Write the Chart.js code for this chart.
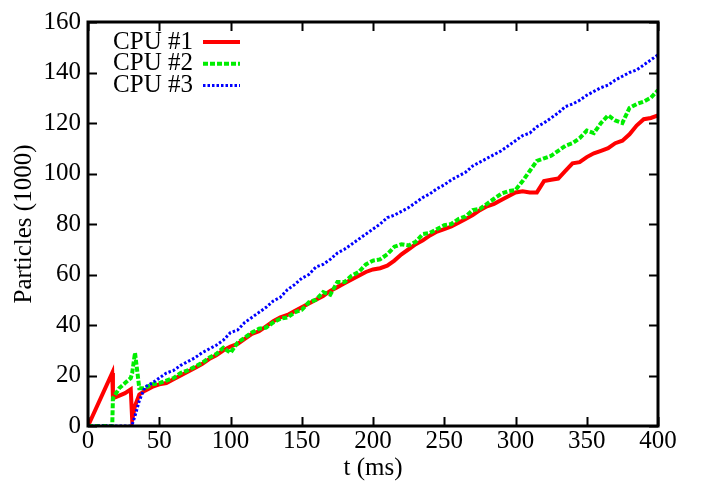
<!DOCTYPE html>
<html>
<head>
<meta charset="utf-8">
<script src="https://cdn.jsdelivr.net/npm/chart.js@4"></script>
<style>
  body { margin: 0; background: #fff; }
</style>
</head>
<body>
<canvas id="myChart" width="704" height="483"></canvas>
<script>
// time in ms
var times = [0, 17, 17.5, 22, 26, 30, 31, 33, 36,
  40, 45, 50, 55, 60, 65, 70, 75, 80, 85, 90, 95, 100, 105, 110, 115, 120, 125, 130, 135, 140, 145,
  150, 155, 160, 165, 170, 175, 180, 185, 190, 195, 200, 205, 210, 215, 220, 225, 230, 235, 240, 245,
  250, 255, 260, 265, 270, 275, 280, 285, 290, 295, 300, 305, 310, 315, 320, 325, 330, 335, 340, 345,
  350, 355, 360, 365, 370, 375, 380, 385, 390, 395, 400];

// particles (1000) per CPU
var cpu1 = [0, 21, 11, 12, 13, 14.5, 2.5, 8, 12.5,
  14, 15.5, 16.5, 17, 18.5, 20, 21.5, 23, 24.5, 26.5, 28, 30, 31.5, 32.5, 34.5, 36.5, 37.5, 39.5, 41.5, 43, 44, 45.5,
  47, 48.5, 50, 51.5, 53.5, 55, 56.5, 58, 59.5, 61, 62, 62.5, 63.5, 65.5, 68, 70, 72, 73.5, 75.5, 77,
  78, 79, 80.5, 82, 83.5, 85.5, 87, 88, 89.5, 91, 92.5, 93, 92.5, 92.5, 97, 97.5, 98, 101, 104, 104.5,
  106.5, 108, 109, 110, 112, 113, 115.5, 119, 121.5, 122, 123];

var cpu2 = [0, 0, 11, 15, 17, 19, 21, 29, 15,
  15, 16.5, 17, 18, 19, 21, 22, 23.5, 25, 27, 28.5, 31, 29, 33, 35, 37, 38.5, 39, 41, 42.5, 43, 45,
  46, 49, 50, 53, 52, 57, 57, 59.5, 61, 64, 65.5, 66, 68, 71, 72, 71.5, 73, 76, 76.5, 78,
  79.5, 80, 82, 83, 85.5, 86, 88, 90, 92, 93, 93.5, 97, 101, 105, 106, 107, 109, 111, 112, 114,
  117, 116, 120, 123, 121, 120, 126, 127.5, 128.5, 130, 133];

var cpu3 = [0, 0, 0, 0, 0, 0, 0.5, 4, 10,
  15.5, 17, 19, 21, 22, 24, 25.5, 27, 29, 30.5, 32, 34, 37, 38, 41, 43, 45, 47, 49.5, 51, 54, 56,
  58.5, 60, 63, 64, 66, 68.5, 70, 72, 74, 76, 78, 80, 82.5, 83.5, 85, 86.5, 88.5, 90.5, 92, 94,
  95.5, 97.5, 99, 100.5, 103, 104.5, 106, 107.5, 109, 111, 113, 115, 116, 118.5, 120, 122, 124, 126.5, 127.5, 129,
  131, 132.5, 134, 135, 137, 138.5, 140, 141, 143, 145, 147];

var seriesNames = ['CPU #1', 'CPU #2', 'CPU #3'];

function points(vals) {
    return vals.map(function(v, i) { return { x: times[i], y: v }; });
}

var FONT = "'Liberation Serif', 'Times New Roman', serif";
var FSIZE = 25;

// gnuplot style frame, inward ticks and key
var framePlugin = {
    id: 'frame',
    afterDatasetsDraw: function(chart) {
        var ctx = chart.ctx;
        var a = chart.chartArea;
        var sx = chart.scales.x, sy = chart.scales.y;
        ctx.save();
        ctx.strokeStyle = '#000';
        ctx.lineWidth = 2;
        var tl = 9;
        ctx.beginPath();
        sx.ticks.forEach(function(t) {
            var px = Math.round(sx.getPixelForValue(t.value)) + 0.5;
            ctx.moveTo(px, a.bottom); ctx.lineTo(px, a.bottom - tl);
            ctx.moveTo(px, a.top); ctx.lineTo(px, a.top + tl);
        });
        sy.ticks.forEach(function(t) {
            var py = Math.round(sy.getPixelForValue(t.value)) + 0.5;
            ctx.moveTo(a.left, py); ctx.lineTo(a.left + tl, py);
            ctx.moveTo(a.right, py); ctx.lineTo(a.right - tl, py);
        });
        ctx.stroke();
        ctx.lineWidth = 3;
        ctx.strokeRect(a.left, a.top, a.right - a.left, a.bottom - a.top);

        // key
        ctx.font = FSIZE + 'px ' + FONT;
        ctx.textAlign = 'right';
        ctx.textBaseline = 'middle';
        chart.data.datasets.forEach(function(ds, i) {
            var y = a.top + 20 + i * 21.7;
            ctx.fillStyle = '#000';
            ctx.fillText(ds.label, a.left + 105, y);
            ctx.strokeStyle = ds.borderColor;
            ctx.lineWidth = ds.borderWidth;
            ctx.setLineDash(ds.borderDash || []);
            ctx.beginPath();
            ctx.moveTo(a.left + 115, y);
            ctx.lineTo(a.left + 152, y);
            ctx.stroke();
            ctx.setLineDash([]);
        });
        ctx.restore();
    }
};

var config = {
    type: 'line',
    data: {
        datasets: [{
            label: seriesNames[0],
            data: points(cpu1),
            borderColor: '#ff0000',
            borderWidth: 4,
            order: 3
        }, {
            label: seriesNames[1],
            data: points(cpu2),
            borderColor: '#00ee00',
            borderWidth: 4,
            borderDash: [5, 2],
            order: 2
        }, {
            label: seriesNames[2],
            data: points(cpu3),
            borderColor: '#0000ff',
            borderWidth: 3,
            borderDash: [2.5, 2],
            order: 1
        }]
    },
    options: {
        responsive: false,
        animation: false,
        layout: { padding: { left: 0, right: 46, top: 17, bottom: 0 } },
        elements: { point: { radius: 0 }, line: { tension: 0, borderCapStyle: 'butt' } },
        plugins: { legend: { display: false }, tooltip: { enabled: false } },
        scales: {
            x: {
                type: 'linear', min: 0, max: 400,
                grid: { display: false, drawTicks: false },
                border: { display: false },
                ticks: { stepSize: 50, color: '#000', padding: 0, font: { family: FONT, size: FSIZE }, maxRotation: 0 },
                title: { display: true, text: 't (ms)', color: '#000', padding: { top: -6, bottom: 0 }, font: { family: FONT, size: FSIZE } },
                afterFit: function(s) { s.height = 57; }
            },
            y: {
                min: 0, max: 160,
                grid: { display: false, drawTicks: false },
                border: { display: false },
                ticks: { stepSize: 20, color: '#000', padding: 7, font: { family: FONT, size: FSIZE } },
                title: { display: true, text: 'Particles (1000)', color: '#000', padding: { top: 9, bottom: 0 }, font: { family: FONT, size: FSIZE } },
                afterFit: function(s) { s.width = 88; }
            }
        }
    },
    plugins: [framePlugin]
};

var ctx = document.getElementById('myChart').getContext('2d');
var particleChart = new Chart(ctx, config);
</script>
</body>
</html>
